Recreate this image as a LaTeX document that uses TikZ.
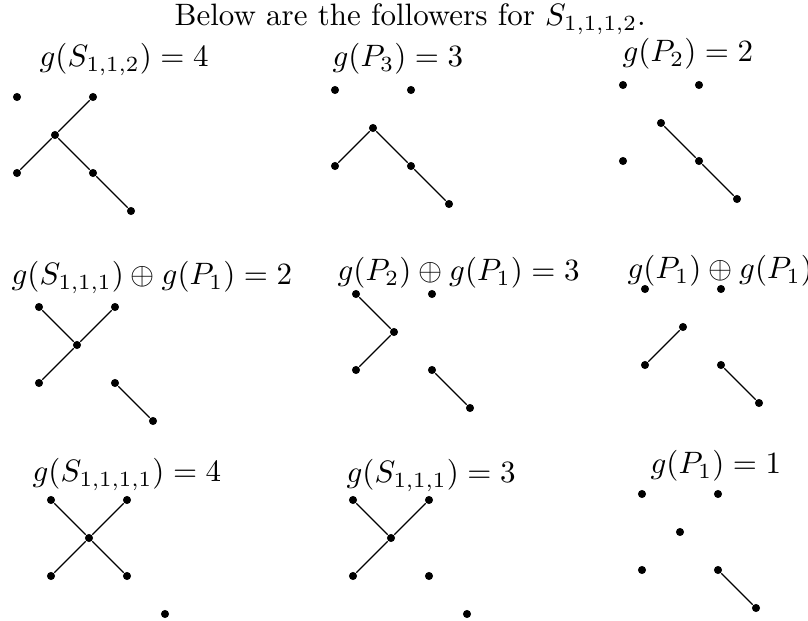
\documentclass[tikz,border=0pt]{standalone}
\begin{document}
\begin{tikzpicture}[x=0.323pt,y=-0.323pt,
  vtx/.style={circle,fill=black,inner sep=0pt,minimum size=2.6pt},
  edge/.style={line width=0.4pt},
  lbl/.style={anchor=base west,inner sep=0pt}]
\useasboundingbox (0,0) rectangle (808,621);
% generic panel: vertices TL, TR, C, BL, BR, X
\def\panel#1#2#3{%
  \node[vtx] (#1tl) at (#2,#3) {};
  \node[vtx] (#1tr) at (#2+76,#3) {};
  \node[vtx] (#1c) at (#2+38,#3+38) {};
  \node[vtx] (#1bl) at (#2,#3+76) {};
  \node[vtx] (#1br) at (#2+76,#3+76) {};
  \node[vtx] (#1x) at (#2+114,#3+114) {};}
\node[lbl] (title) at (174,26) {Below are the followers for $S_{1,1,1,2}$.};
% row 1
\node[lbl] (la) at (39,67) {$g(S_{1,1,2}) = 4$};
\panel{a}{17}{97}
\draw[edge] (atr) -- (ac) (ac) -- (abl) (ac) -- (abr) (abr) -- (ax);
\node[lbl] (lb) at (332,67) {$g(P_3) = 3$};
\panel{b}{335}{90}
\draw[edge] (bc) -- (bbl) (bc) -- (bbr) (bbr) -- (bx);
\node[lbl] (lc) at (622,62) {$g(P_2) = 2$};
\panel{c}{623}{85}
\draw[edge] (cc) -- (cbr) (cbr) -- (cx);
% row 2
\node[lbl] (ld) at (11,285) {$g(S_{1,1,1}) \oplus g(P_1) = 2$};
\panel{d}{39}{307}
\draw[edge] (dtl) -- (dc) (dtr) -- (dc) (dc) -- (dbl) (dbr) -- (dx);
\node[lbl] (le) at (337,281) {$g(P_2) \oplus g(P_1) = 3$};
\panel{e}{356}{294}
\draw[edge] (etl) -- (ec) (ec) -- (ebl) (ebr) -- (ex);
\node[lbl] (lf) at (627,279) {$g(P_1) \oplus g(P_1)$};
\panel{f}{645}{289}
\draw[edge] (fc) -- (fbl) (fbr) -- (fx);
% row 3
\node[lbl] (lg) at (32,482) {$g(S_{1,1,1,1}) = 4$};
\panel{g}{51}{500}
\draw[edge] (gtl) -- (gc) (gtr) -- (gc) (gc) -- (gbl) (gc) -- (gbr);
\node[lbl] (lh) at (346,483) {$g(S_{1,1,1}) = 3$};
\panel{h}{353}{500}
\draw[edge] (htl) -- (hc) (htr) -- (hc) (hc) -- (hbl);
\node[lbl] (li) at (650,474) {$g(P_1) = 1$};
\panel{i}{642}{494}
\draw[edge] (ibr) -- (ix);
\end{tikzpicture}
\end{document}
